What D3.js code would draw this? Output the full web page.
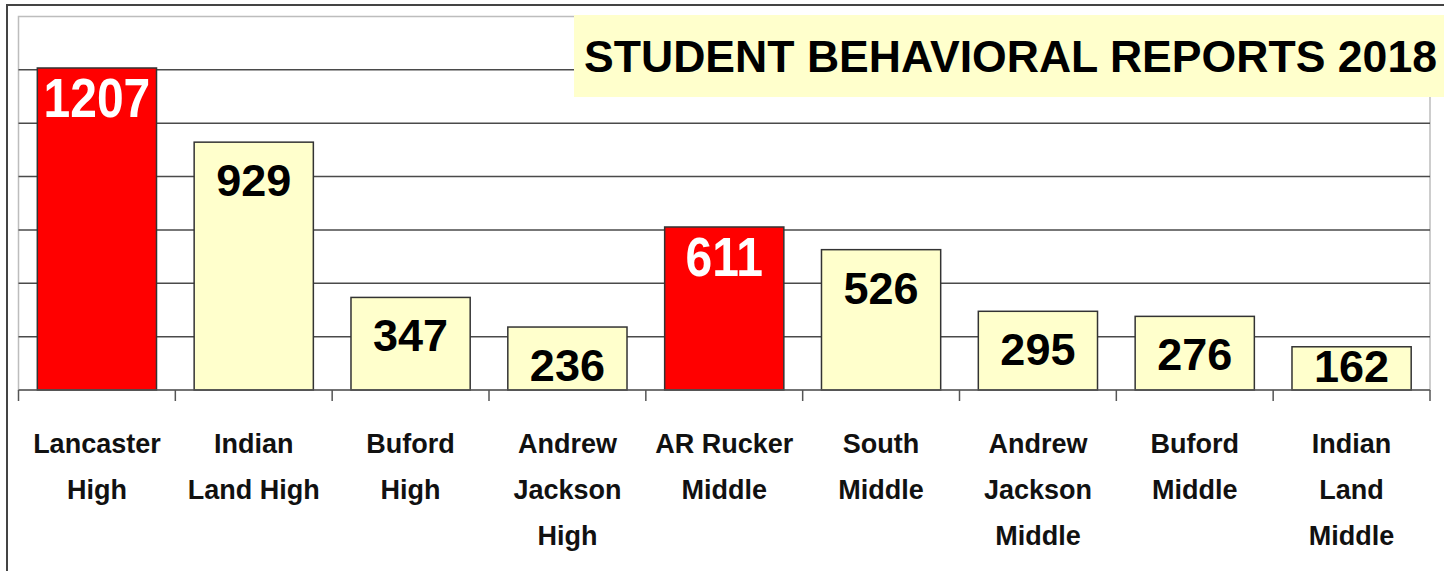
<!DOCTYPE html>
<html>
<head>
<meta charset="utf-8">
<script src="https://cdn.jsdelivr.net/npm/d3@7"></script>
<style>
  body { margin: 0; background: #fff; }
  text { font-family: "Liberation Sans", Arial, sans-serif; font-weight: bold; }
</style>
</head>
<body>
<div id="chart"></div>
<script>
// chart data
var schools = ["Lancaster\nHigh", "Indian\nLand High", "Buford\nHigh", "Andrew\nJackson\nHigh",
               "AR Rucker\nMiddle", "South\nMiddle", "Andrew\nJackson\nMiddle", "Buford\nMiddle", "Indian\nLand\nMiddle"];
var reports = [1207, 929, 347, 236, 611, 526, 295, 276, 162];
var flagged = ["Lancaster\nHigh", "AR Rucker\nMiddle"];
var gridTicks = [200, 400, 600, 800, 1000, 1200];
var title = "STUDENT BEHAVIORAL REPORTS 2018";

var width = 1444;
var height = 571;
var plotLeft = 18.5, plotRight = 1430, plotTop = 16.5, plotBottom = 390;

var svg = d3.select("#chart")
  .append("svg")
    .attr("width", width)
    .attr("height", height);

var data = schools.map(function(s, i) { return { name: s, value: reports[i] }; });

var x = d3.scaleBand()
  .domain(schools)
  .range([plotLeft, plotRight])
  .paddingInner(0.24)
  .paddingOuter(0.12);

var y = d3.scaleLinear()
  .domain([0, 1400])
  .range([plotBottom, plotTop]);

// outer frame
svg.append("path")
  .attr("d", "M7,571 V5 H1444")
  .attr("fill", "none")
  .attr("stroke", "#444")
  .attr("stroke-width", 2);

// plot area border
svg.append("rect")
  .attr("x", plotLeft).attr("y", plotTop)
  .attr("width", plotRight - plotLeft).attr("height", plotBottom - plotTop)
  .attr("fill", "none")
  .attr("stroke", "#bdbdbd")
  .attr("stroke-width", 1.5);

// gridlines
svg.append("g")
  .selectAll("line")
  .data(gridTicks)
  .enter()
  .append("line")
    .attr("x1", plotLeft).attr("x2", plotRight)
    .attr("y1", function(d) { return y(d); })
    .attr("y2", function(d) { return y(d); })
    .attr("stroke", "#4a4a4a")
    .attr("stroke-width", 1.5);

// title box
svg.append("rect")
  .attr("x", 574).attr("y", 15)
  .attr("width", width - 574).attr("height", 82)
  .attr("fill", "#ffffcc");

svg.append("text")
  .attr("x", 584).attr("y", 72)
  .attr("font-size", 45)
  .attr("textLength", 853)
  .attr("lengthAdjust", "spacingAndGlyphs")
  .attr("fill", "#000")
  .text(title);

// bars
svg.append("g")
  .selectAll("rect")
  .data(data)
  .enter()
  .append("rect")
    .attr("x", function(d) { return x(d.name); })
    .attr("y", function(d) { return y(d.value); })
    .attr("width", x.bandwidth())
    .attr("height", function(d) { return y(0) - y(d.value); })
    .attr("fill", function(d) { return flagged.indexOf(d.name) >= 0 ? "#ff0000" : "#ffffcc"; })
    .attr("stroke", "#333")
    .attr("stroke-width", 1.5);

// x axis line and ticks at category boundaries
svg.append("line")
  .attr("x1", plotLeft).attr("x2", plotRight)
  .attr("y1", plotBottom).attr("y2", plotBottom)
  .attr("stroke", "#555")
  .attr("stroke-width", 1.5);

var bounds = d3.range(schools.length + 1).map(function(i) { return plotLeft + i * x.step(); });
svg.append("g")
  .selectAll("line")
  .data(bounds)
  .enter()
  .append("line")
    .attr("x1", function(d) { return d; })
    .attr("x2", function(d) { return d; })
    .attr("y1", plotBottom).attr("y2", plotBottom + 11)
    .attr("stroke", "#555")
    .attr("stroke-width", 1.5);

// value labels
svg.append("g")
  .selectAll("text")
  .data(data)
  .enter()
  .append("text")
    .attr("text-anchor", "middle")
    .attr("transform", function(d) {
      var cx = x(d.name) + x.bandwidth() / 2;
      if (flagged.indexOf(d.name) >= 0) {
        return "translate(" + cx + "," + (y(d.value) + 49) + ") scale(1,1.15)";
      }
      var by = Math.min(y(d.value) + 54, plotBottom - 8);
      return "translate(" + cx + "," + by + ")";
    })
    .attr("font-size", function(d) { return flagged.indexOf(d.name) >= 0 ? 48 : 45; })
    .attr("fill", function(d) { return flagged.indexOf(d.name) >= 0 ? "#fff" : "#000"; })
    .text(function(d) { return d.value; });

// category labels
var cats = svg.append("g")
  .selectAll("text")
  .data(schools)
  .enter()
  .append("text")
    .attr("text-anchor", "middle")
    .attr("font-size", 27)
    .attr("fill", "#111")
    .attr("x", function(d) { return x(d) + x.bandwidth() / 2; })
    .attr("y", 453);

cats.selectAll("tspan")
  .data(function(d) { return d.split("\n"); })
  .enter()
  .append("tspan")
    .attr("x", function() { return this.parentNode.getAttribute("x"); })
    .attr("y", function(d, i) { return 453 + i * 46; })
    .text(function(d) { return d; });
</script>
</body>
</html>
